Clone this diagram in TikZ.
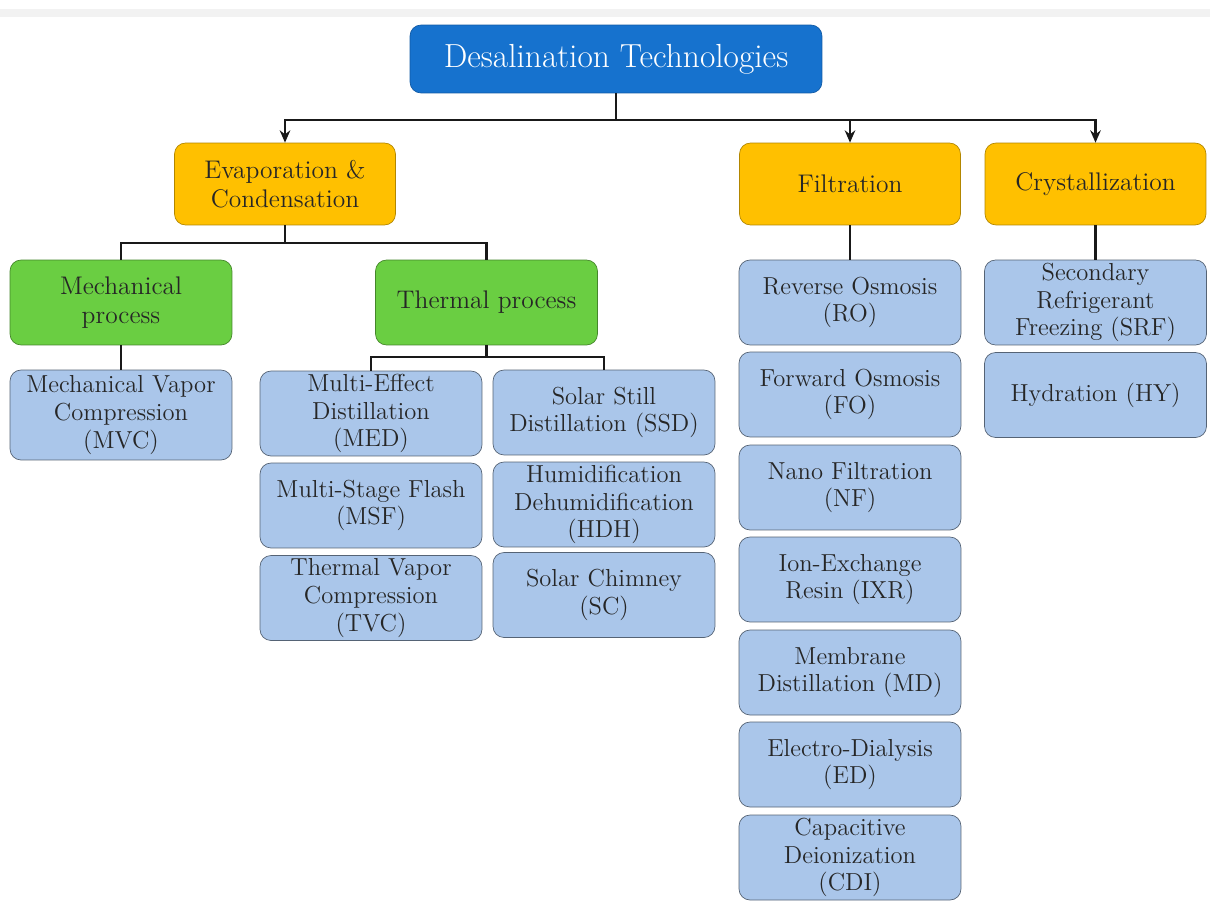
\documentclass[tikz,border=0pt]{standalone}
\usepackage{fontspec}
\usepackage{tikz}
\usetikzlibrary{arrows.meta,%
	positioning}
\definecolor{topblue}{RGB}{22,114,206}
\definecolor{catorange}{RGB}{255,192,0}
\definecolor{procgreen}{RGB}{106,206,66}
\definecolor{techblue}{RGB}{170,198,234}

\begin{document}
\begin{tikzpicture}[x=0.02cm, y=-0.02cm, font=\fontsize{14}{15.8}\selectfont, topbox/.style = {rectangle, rounded corners=0.22cm, draw=topblue!80!black, fill=topblue, text=white, minimum width=8.24cm, minimum height=1.36cm, font=\fontsize{19}{22}\selectfont},catbox/.style = {rectangle, rounded corners=0.22cm, draw=catorange!70!black, fill=catorange, text=black!85, minimum width=4.42cm, minimum height=1.64cm, align=center, font=\fontsize{14.5}{16.5}\selectfont},procbox/.style = {catbox, draw=procgreen!65!black, fill=procgreen, minimum width=4.44cm, minimum height=1.7cm},techbox/.style = {rectangle, rounded corners=0.22cm, draw=techblue!50!black, fill=techblue, text=black!85, minimum width=4.44cm, minimum height=1.7cm, inner sep=1pt, align=center},wire/.style = {line width=1.4pt, black!90},arrowwire/.style = {wire, -{Stealth[length=7pt,width=6pt]}}]
	\useasboundingbox (0,0) rectangle (1210,906);
	\fill[black!5] (0,9) rectangle (1210,17);
	\node[topbox] (desal) at (616,59) {Desalination Technologies};
	\node[catbox] (evap) at (285,184) {Evaporation \&\\Condensation};
	\node[catbox] (filt) at (850,184) {Filtration};
	\node[catbox] (cryst) at (1095.5,184) {Crystallization};
	\node[procbox] (mech) at (121,302.5) {Mechanical\\process};
	\node[procbox] (therm) at (486.5,302.5) {Thermal process};
	\node[techbox, minimum height=1.8cm] (mvc) at (121,415) {Mechanical Vapor\\Compression\\(MVC)};
	\node[techbox] (med) at (371,413.5) {Multi-Effect\\Distillation\\(MED)};
	\node[techbox] (msf) at (371,505.5) {Multi-Stage Flash\\(MSF)};
	\node[techbox] (tvc) at (371,598) {Thermal Vapor\\Compression\\(TVC)};
	\node[techbox] (ssd) at (604,412.5) {Solar Still\\Distillation (SSD)};
	\node[techbox] (hdh) at (604,504.5) {Humidification\\Dehumidification\\(HDH)};
	\node[techbox] (sc) at (604,595) {Solar Chimney\\(SC)};
	\node[techbox] (ro) at (850,302.5) {Reverse Osmosis\\(RO)};
	\node[techbox] (fo) at (850,394.5) {Forward Osmosis\\(FO)};
	\node[techbox] (nf) at (850,487.5) {Nano Filtration\\(NF)};
	\node[techbox] (ixr) at (850,579.5) {Ion-Exchange\\Resin (IXR)};
	\node[techbox] (md) at (850,672.5) {Membrane\\Distillation (MD)};
	\node[techbox] (ed) at (850,764.5) {Electro-Dialysis\\(ED)};
	\node[techbox] (cdi) at (850,857.5) {Capacitive\\Deionization\\(CDI)};
	\node[techbox] (srf) at (1095.5,302.5) {Secondary\\Refrigerant\\Freezing (SRF)};
	\node[techbox] (hy) at (1095.5,395) {Hydration (HY)};
	\coordinate (desalsplit) at (616,120);
	\coordinate (evapsplit) at (285,243);
	\coordinate (thermsplit) at (486.5,357);
	\draw[wire] (desal) -- (desalsplit);
	\draw[arrowwire] (desalsplit) -| (evap.north);
	\draw[arrowwire] (desalsplit) -| (filt.north);
	\draw[arrowwire] (desalsplit) -| (cryst.north);
	\draw[wire] (evap) -- (evapsplit);
	\draw[wire] (evapsplit) -| (mech.north);
	\draw[wire] (evapsplit) -| (therm.north);
	\draw[wire] (mech) -- (mvc);
	\draw[wire] (therm) -- (thermsplit);
	\draw[wire] (thermsplit) -| (med.north);
	\draw[wire] (thermsplit) -| (ssd.north);
	\draw[wire] (filt) -- (ro);
	\draw[wire] (cryst) -- (srf);
\end{tikzpicture}
\end{document}
